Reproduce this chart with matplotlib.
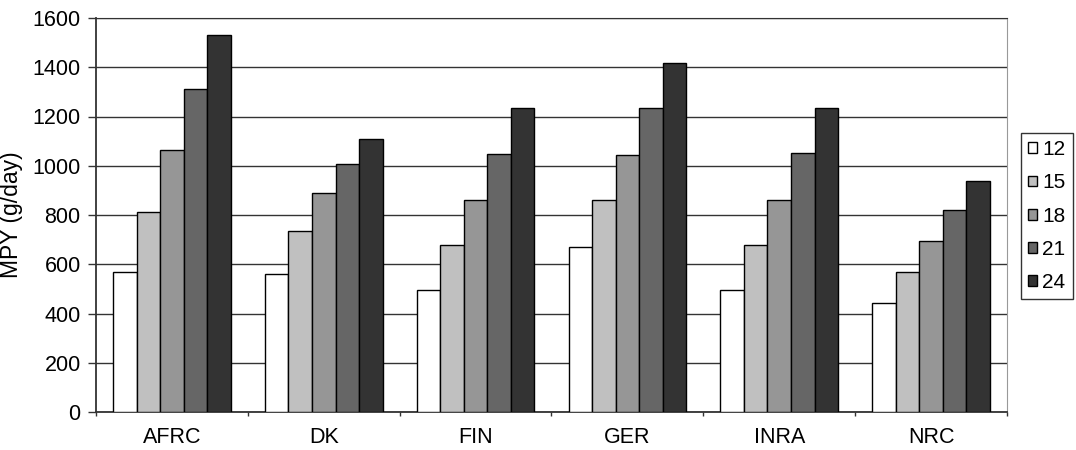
import matplotlib
matplotlib.use("Agg")
import matplotlib.pyplot as plt
import numpy as np

categories = ["AFRC", "DK", "FIN", "GER", "INRA", "NRC"]
series_labels = ["12", "15", "18", "21", "24"]
v12 = [568, 561, 497, 672, 497, 443]
v15 = [814, 737, 679, 861, 679, 567]
v18 = [1065, 891, 861, 1044, 861, 696]
v21 = [1310, 1009, 1046, 1233, 1050, 820]
v24 = [1529, 1107, 1233, 1417, 1233, 939]
series = [v12, v15, v18, v21, v24]
colors = ["#ffffff", "#c0c0c0", "#969696", "#666666", "#333333"]

plt.rcParams['font.family'] = ['Liberation Sans', 'DejaVu Sans']

W, H = 1076, 450
fig = plt.figure(figsize=(W / 100, H / 100), dpi=100)
L, R, T, B = 96, 1007, 18, 412
ax = fig.add_axes([L / W, 1 - B / H, (R - L) / W, (B - T) / H])

x = np.arange(len(categories))
w = 0.155
for i, (vals, c, lab) in enumerate(zip(series, colors, series_labels)):
    ax.bar(x + (i - 2) * w, vals, width=w, color=c, edgecolor="black",
           linewidth=1.0, label=lab, zorder=3)

ax.set_xlim(-0.5, len(categories) - 0.5)
ax.set_ylim(0, 1600)
ax.set_yticks(np.arange(0, 1601, 200))
ax.yaxis.grid(True, color="#333333", linewidth=1.0, zorder=0)
ax.set_xticks(x)
ax.set_xticklabels(categories, fontsize=15.5)
ax.tick_params(axis='x', length=0, pad=11)
ax.set_xticks(np.arange(-0.5, len(categories) + 0.5, 1.0), minor=True)
ax.tick_params(axis='x', which='minor', length=3, width=1, color='#333333')
ax.tick_params(axis='y', labelsize=15.5, length=6, width=1, color='#333333', pad=5)

for s in ["left", "bottom"]:
    ax.spines[s].set_color("#333333")
    ax.spines[s].set_linewidth(1.3)
ax.spines["right"].set_color("#999999")
ax.spines["top"].set_color("#333333")

ax.set_ylabel("MPY (g/day)", fontsize=16.5)
ax.yaxis.set_label_coords((23 - L) / (R - L), 0.5)

leg = ax.legend(loc="upper left", bbox_to_anchor=((1021 - L) / (R - L), (B - 133) / (B - T)),
                borderaxespad=0, fontsize=15,
                frameon=True, fancybox=False, edgecolor="black",
                handlelength=0.42, handleheight=0.42, handletextpad=0.25,
                borderpad=0.35, labelspacing=0.68)
leg.get_frame().set_linewidth(1.0)

fig.savefig("out.png", dpi=100)
